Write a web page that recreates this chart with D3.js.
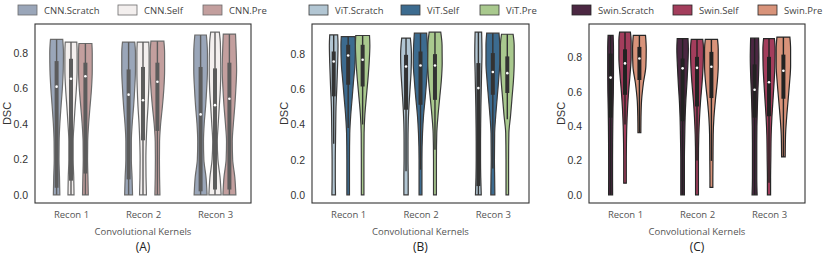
<!DOCTYPE html>
<html>
<head>
<meta charset="utf-8">
<script src="https://cdn.jsdelivr.net/npm/d3@7"></script>
<style>
  body { margin: 0; background: #fff; }
  text { font-family: "Open Sans", sans-serif; }
</style>
</head>
<body>
<script>
var recon = ["Recon 1", "Recon 2", "Recon 3"];
var yTicks = [0.0, 0.2, 0.4, 0.6, 0.8];

var cnnNames = ["CNN.Scratch", "CNN.Self", "CNN.Pre"];
var vitNames = ["ViT.Scratch", "ViT.Self", "ViT.Pre"];
var swinNames = ["Swin.Scratch", "Swin.Self", "Swin.Pre"];

var cnnColors = ["#9aa6b9", "#f3efee", "#c39f9e"];
var vitColors = ["#b2c6d3", "#3c6b8f", "#a9c98e"];
var swinColors = ["#4b2742", "#a33d5c", "#d8937a"];

// box stats per recon, per model: [whisker low, q1, median, q3, whisker high]
var cnnBox = [
  [[0, .04, .609, .753, .875], [0, .08, .654, .766, .86], [0, .12, .668, .744, .852]],
  [[0, .087, .564, .706, .86], [0, .307, .533, .72, .86], [0, .36, .637, .744, .865]],
  [[0, .02, .453, .72, .9], [0, .03, .505, .712, .916], [0, .03, .541, .744, .905]]
];
var vitBox = [
  [[.29, .56, .758, .815, .909], [.38, .626, .792, .853, .9], [.4, .616, .768, .853, .906]],
  [[.134, .484, .73, .796, .891], [.143, .512, .735, .815, .919], [.257, .54, .735, .8, .925]],
  [[0, .05, .607, .749, .925], [.15, .569, .698, .806, .919], [.43, .579, .692, .787, .913]]
];
var swinBox = [
  [[0, .45, .683, .823, .929], [.41, .583, .766, .848, .948], [.362, .669, .794, .862, .929]],
  [[0, .429, .737, .794, .91], [.2, .515, .74, .804, .906], [.198, .564, .746, .833, .906]],
  [[0, .45, .612, .76, .913], [.07, .458, .656, .804, .91], [.221, .56, .723, .817, .919]]
];

// violin outline: [DSC value, relative half width]
var cnnShape = [
  [
    [[.875, .85], [.8, .95], [.7, .92], [.6, .8], [.5, .62], [.4, .45], [.3, .35], [.2, .33], [.1, .4], [0, .45]],
    [[.86, .8], [.8, .85], [.7, .85], [.6, .75], [.5, .58], [.4, .42], [.3, .3], [.2, .3], [.1, .38], [0, .42]],
    [[.852, .9], [.8, .95], [.7, .95], [.6, .85], [.5, .65], [.4, .45], [.3, .32], [.2, .3], [.1, .35], [0, .4]]
  ],
  [
    [[.86, .85], [.8, .95], [.7, .95], [.6, .85], [.5, .7], [.4, .5], [.3, .38], [.2, .38], [.1, .48], [0, .55]],
    [[.86, .8], [.8, .85], [.7, .85], [.6, .8], [.5, .7], [.4, .55], [.3, .45], [.2, .4], [.1, .42], [0, .48]],
    [[.865, .9], [.8, 1], [.7, 1], [.6, .9], [.5, .7], [.4, .45], [.3, .3], [.2, .28], [.1, .3], [0, .35]]
  ],
  [
    [[.9, .8], [.8, .95], [.7, .95], [.6, .85], [.5, .7], [.4, .5], [.3, .4], [.2, .45], [.1, .75], [0, .9]],
    [[.916, .6], [.85, .75], [.7, .8], [.6, .75], [.5, .6], [.4, .45], [.3, .32], [.2, .4], [.1, .7], [0, .85]],
    [[.905, .85], [.8, .95], [.7, 1], [.6, .9], [.5, .75], [.4, .55], [.3, .4], [.2, .45], [.1, .75], [0, .9]]
  ]
];
var vitShape = [
  [
    [[.909, .55], [.85, .6], [.75, .55], [.6, .42], [.5, .32], [.4, .28], [.3, .25], [.2, .22], [.1, .22], [0, .25]],
    [[.9, .95], [.85, 1], [.75, .95], [.65, .75], [.55, .55], [.45, .35], [.35, .22], [.2, .18], [.1, .18], [0, .18]],
    [[.906, .95], [.85, 1], [.75, .9], [.65, .72], [.55, .5], [.45, .3], [.35, .2], [.2, .18], [.1, .18], [0, .18]]
  ],
  [
    [[.891, .6], [.8, .75], [.7, .7], [.6, .55], [.5, .4], [.4, .3], [.3, .27], [.2, .27], [.1, .3], [0, .3]],
    [[.919, .85], [.85, .95], [.75, 1], [.65, .85], [.55, .65], [.45, .42], [.35, .28], [.2, .2], [.1, .2], [0, .2]],
    [[.925, .8], [.85, .98], [.75, 1], [.65, .88], [.55, .65], [.45, .42], [.35, .25], [.2, .2], [.1, .2], [0, .2]]
  ],
  [
    [[.925, .45], [.8, .5], [.7, .45], [.6, .4], [.5, .35], [.4, .32], [.3, .3], [.2, .3], [.1, .33], [0, .4]],
    [[.919, .85], [.85, .95], [.75, .95], [.65, .8], [.55, .6], [.45, .4], [.35, .25], [.2, .22], [.1, .25], [0, .28]],
    [[.913, .8], [.85, .95], [.75, .95], [.65, .85], [.55, .65], [.45, .45], [.35, .22], [.2, .18], [.1, .18], [0, .18]]
  ]
];
var swinShape = [
  [
    [[.929, .35], [.85, .4], [.7, .4], [.6, .38], [.5, .33], [.4, .3], [.3, .28], [.2, .27], [.1, .27], [0, .28]],
    [[.948, .75], [.9, .85], [.8, .85], [.7, .7], [.6, .5], [.5, .35], [.4, .25], [.3, .2], [.2, .18], [.068, .18]],
    [[.929, .85], [.85, .95], [.75, .9], [.65, .55], [.55, .3], [.45, .22], [.362, .2]]
  ],
  [
    [[.91, .75], [.85, .8], [.75, .72], [.65, .6], [.55, .45], [.45, .35], [.35, .3], [.2, .25], [.1, .25], [0, .25]],
    [[.906, .8], [.85, .9], [.75, .85], [.65, .7], [.55, .5], [.45, .35], [.35, .25], [.2, .2], [.1, .2], [0, .2]],
    [[.906, .85], [.85, .95], [.75, .95], [.65, .8], [.55, .55], [.45, .35], [.35, .25], [.2, .22], [.1, .2], [.044, .2]]
  ],
  [
    [[.913, .55], [.8, .6], [.7, .55], [.6, .45], [.5, .38], [.4, .32], [.3, .3], [.2, .3], [.1, .3], [0, .35]],
    [[.91, .75], [.85, .85], [.75, .82], [.65, .7], [.55, .55], [.45, .4], [.35, .3], [.2, .25], [.1, .22], [0, .22]],
    [[.919, .9], [.85, 1], [.75, 1], [.65, .85], [.55, .65], [.45, .45], [.35, .3], [.221, .25]]
  ]
];

var width = 823, height = 255;

var svg = d3.select("body").append("svg")
    .attr("width", width)
    .attr("height", height)

var panels = [
  { names: cnnNames, colors: cnnColors, box: cnnBox, shape: cnnShape, letter: "(A)",
    left: 35, right: 251, edge: "#6b6b6b", inner: "#5c5c5c", legendX: [18, 118, 203] },
  { names: vitNames, colors: vitColors, box: vitBox, shape: vitShape, letter: "(B)",
    left: 312, right: 529, edge: "#3a3a3a", inner: "#333333", legendX: [309, 401, 480] },
  { names: swinNames, colors: swinColors, box: swinBox, shape: swinShape, letter: "(C)",
    left: 589, right: 805, edge: "#262626", inner: "#222222", legendX: [572, 673, 758] }
];

var plotTop = 24, plotBottom = 203;

panels.forEach(function (p) {
  var g = svg.append("g")

  // y domain: data range padded by 5% like seaborn
  var all = [];
  p.shape.forEach(function (grp) { grp.forEach(function (v) { v.forEach(function (d) { all.push(d[0]) }) }) });
  var ext = d3.extent(all), pad = (ext[1] - ext[0]) * 0.05;
  var y = d3.scaleLinear().domain([ext[0] - pad, ext[1] + pad]).range([plotBottom, plotTop]);

  var x = d3.scalePoint().domain(recon).range([p.left, p.right]).padding(0.5);
  var step = x.step();
  var hue = d3.scaleBand().domain(p.names).range([-0.3 * step, 0.3 * step]);
  var halfMax = hue.bandwidth() / 2;

  // frame
  g.append("rect")
    .attr("x", p.left).attr("y", plotTop)
    .attr("width", p.right - p.left).attr("height", plotBottom - plotTop)
    .attr("fill", "none").attr("stroke", "#333").attr("stroke-width", 1.1)

  // y axis
  var yAxis = d3.axisLeft(y).tickValues(yTicks).tickSize(0).tickPadding(7).tickFormat(d3.format(".1f"));
  var ya = g.append("g").attr("transform", "translate(" + p.left + ",0)").call(yAxis);
  ya.select(".domain").remove();
  ya.selectAll("text").attr("fill", "#333").style("font-family", "'Liberation Sans', Arial, sans-serif").style("font-size", "10.5px");

  // x axis
  var xAxis = d3.axisBottom(x).tickSize(0).tickPadding(8);
  var xa = g.append("g").attr("transform", "translate(0," + plotBottom + ")").call(xAxis);
  xa.select(".domain").remove();
  xa.selectAll("text").attr("fill", "#555").style("font-family", "'Open Sans', sans-serif").style("font-size", "9.5px");

  g.append("text")
    .attr("transform", "translate(" + (p.left - 24) + "," + ((plotTop + plotBottom) / 2) + ") rotate(-90)")
    .attr("text-anchor", "middle")
    .attr("fill", "#333")
    .style("font-family", "'Liberation Sans', Arial, sans-serif")
    .style("font-size", "11px")
    .text("DSC")

  g.append("text")
    .attr("x", (p.left + p.right) / 2).attr("y", 235)
    .attr("text-anchor", "middle").attr("fill", "#555")
    .style("font-size", "9.5px")
    .text("Convolutional Kernels")

  g.append("text")
    .attr("x", (p.left + p.right) / 2).attr("y", 251)
    .attr("text-anchor", "middle").attr("fill", "#222")
    .style("font-size", "12px")
    .text(p.letter)

  // violins
  recon.forEach(function (r, ri) {
    p.names.forEach(function (n, ni) {
      var cx = x(r) + hue(n) + halfMax;
      var area = d3.area()
        .y(function (d) { return y(d[0]) })
        .x0(function (d) { return cx - d[1] * halfMax })
        .x1(function (d) { return cx + d[1] * halfMax })
        .curve(d3.curveMonotoneY);
      g.append("path")
        .attr("d", area(p.shape[ri][ni]))
        .attr("fill", p.colors[ni])
        .attr("stroke", p.edge)
        .attr("stroke-width", 1.2)

      var b = p.box[ri][ni];
      g.append("line")
        .attr("x1", cx).attr("x2", cx)
        .attr("y1", y(b[0])).attr("y2", y(b[4]))
        .attr("stroke", p.inner).attr("stroke-width", 1.4)
      g.append("line")
        .attr("x1", cx).attr("x2", cx)
        .attr("y1", y(b[1])).attr("y2", y(b[3]))
        .attr("stroke", p.inner).attr("stroke-width", 4)
      g.append("circle")
        .attr("cx", cx).attr("cy", y(b[2])).attr("r", 1.3)
        .attr("fill", "#fff")
    });
  });

  // legend
  p.names.forEach(function (n, ni) {
    var lx = p.legendX[ni];
    g.append("rect")
      .attr("x", lx).attr("y", 5).attr("width", 19).attr("height", 10)
      .attr("fill", p.colors[ni]).attr("stroke", p.edge).attr("stroke-width", 0.8)
    g.append("text")
      .attr("x", lx + 26).attr("y", 14)
      .attr("fill", "#444").style("font-size", "9.5px")
      .text(n)
  });
});
</script>
</body>
</html>
